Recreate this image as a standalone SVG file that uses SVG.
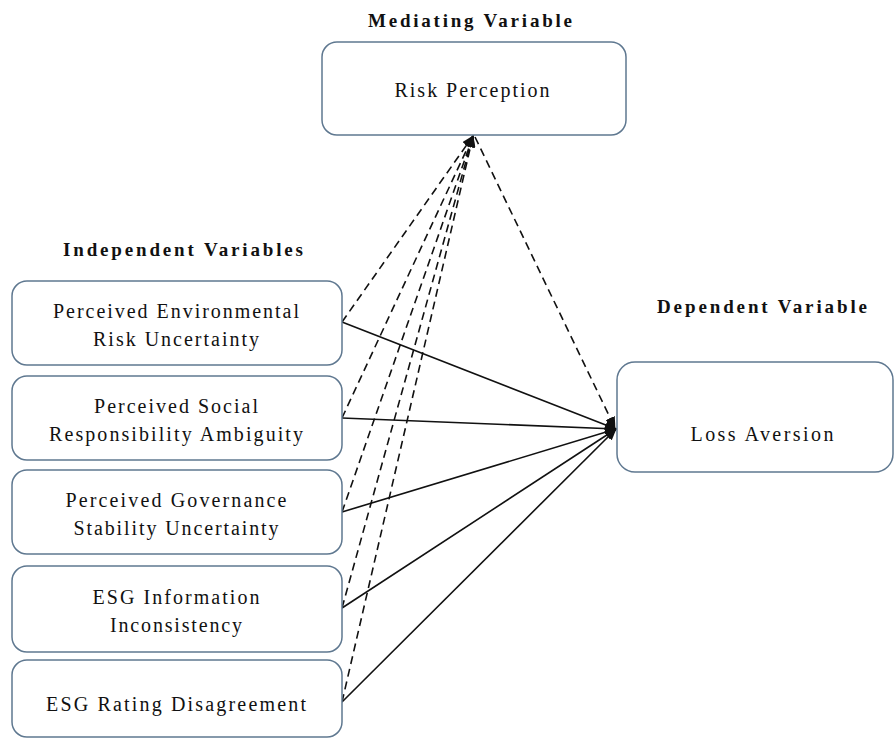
<svg xmlns="http://www.w3.org/2000/svg" width="894" height="742" viewBox="0 0 894 742">
<style>
.box{fill:#fff;stroke:#5f7890;stroke-width:1.5}
.s{stroke:#111;stroke-width:1.6;fill:none}
.d{stroke:#111;stroke-width:1.6;fill:none;stroke-dasharray:8 5}
</style>
<defs>
<marker id="ah" markerUnits="userSpaceOnUse" markerWidth="12" markerHeight="10" refX="11" refY="5" orient="auto">
<path d="M0,0 L12,5 L0,10 Z" fill="#111"/>
</marker>
</defs>
<rect width="894" height="742" fill="#fff"/>
<g font-family="Liberation Serif, DejaVu Serif, serif" fill="#111" text-anchor="middle">
<g font-size="19" font-weight="bold">
<text x="470" y="27" textLength="204" lengthAdjust="spacing">Mediating Variable</text>
<text x="183" y="256" textLength="240" lengthAdjust="spacing">Independent Variables</text>
<text x="762" y="313" textLength="210" lengthAdjust="spacing">Dependent Variable</text>
</g>

<g id="connectors">
<line class="d" x1="342" y1="322" x2="473" y2="136" marker-end="url(#ah)"/>
<line class="d" x1="342" y1="418" x2="473" y2="136" marker-end="url(#ah)"/>
<line class="d" x1="342" y1="512" x2="473" y2="136" marker-end="url(#ah)"/>
<line class="d" x1="342" y1="608" x2="473" y2="136" marker-end="url(#ah)"/>
<line class="d" x1="342" y1="702" x2="473" y2="136" marker-end="url(#ah)"/>
<line class="d" x1="475" y1="137" x2="615" y2="428" marker-end="url(#ah)"/>
<line class="s" x1="342" y1="322" x2="616" y2="429" marker-end="url(#ah)"/>
<line class="s" x1="342" y1="418" x2="616" y2="429" marker-end="url(#ah)"/>
<line class="s" x1="342" y1="512" x2="616" y2="429" marker-end="url(#ah)"/>
<line class="s" x1="342" y1="608" x2="616" y2="429" marker-end="url(#ah)"/>
<line class="s" x1="342" y1="702" x2="616" y2="429" marker-end="url(#ah)"/>
</g>

<g font-size="20">
<g id="risk-perception">
<rect class="box" x="322" y="42" width="304" height="93" rx="15"/>
<text x="472" y="97" textLength="155" lengthAdjust="spacing">Risk Perception</text>
</g>
<g id="env">
<rect class="box" x="12" y="281" width="330" height="84" rx="15"/>
<text x="176" y="318" textLength="246" lengthAdjust="spacing">Perceived Environmental</text>
<text x="176" y="346" textLength="166" lengthAdjust="spacing">Risk Uncertainty</text>
</g>
<g id="social">
<rect class="box" x="12" y="376" width="330" height="84" rx="15"/>
<text x="176" y="413" textLength="164" lengthAdjust="spacing">Perceived Social</text>
<text x="176" y="441" textLength="254" lengthAdjust="spacing">Responsibility Ambiguity</text>
</g>
<g id="governance">
<rect class="box" x="12" y="470" width="330" height="84" rx="15"/>
<text x="176" y="507" textLength="221" lengthAdjust="spacing">Perceived Governance</text>
<text x="176" y="535" textLength="205" lengthAdjust="spacing">Stability Uncertainty</text>
</g>
<g id="info">
<rect class="box" x="12" y="566" width="330" height="86" rx="15"/>
<text x="176" y="604" textLength="167" lengthAdjust="spacing">ESG Information</text>
<text x="176" y="632" textLength="132" lengthAdjust="spacing">Inconsistency</text>
</g>
<g id="rating">
<rect class="box" x="12" y="660" width="330" height="77" rx="15"/>
<text x="176" y="711" textLength="260" lengthAdjust="spacing">ESG Rating Disagreement</text>
</g>
<g id="loss-aversion">
<rect class="box" x="617" y="362" width="276" height="110" rx="18"/>
<text x="762" y="441" textLength="143" lengthAdjust="spacing">Loss Aversion</text>
</g>
</g>
</g>
</svg>
